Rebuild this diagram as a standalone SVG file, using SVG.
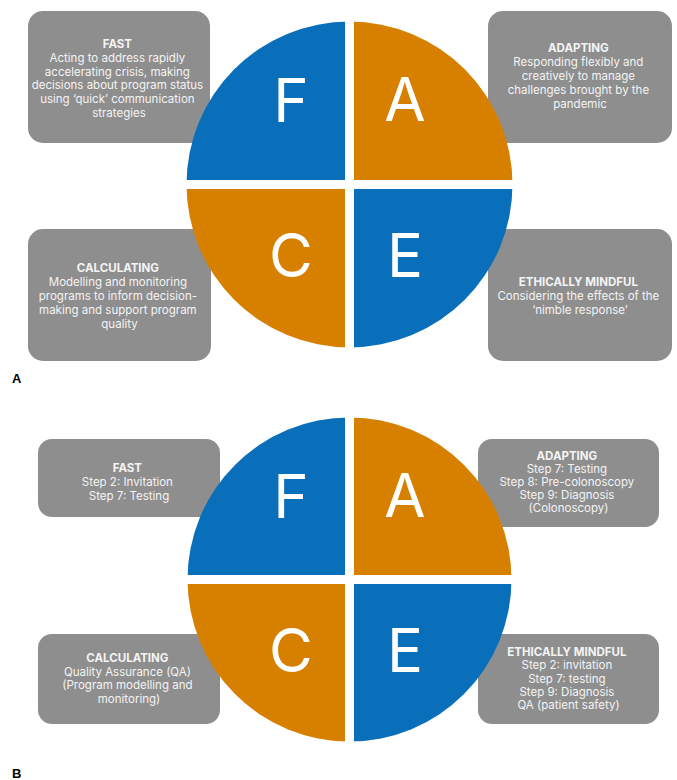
<svg xmlns="http://www.w3.org/2000/svg" width="677" height="780" viewBox="0 0 677 780">
  <style>
    .box { fill: #8e8e8e; }
    .t { font-family: Inter, "Noto Sans", "Liberation Sans", sans-serif; font-size: 11.5px; fill: #f4f4f4; text-anchor: middle; }
    .h { font-weight: bold; }
    .big { font-family: Inter, "Liberation Sans", sans-serif; font-size: 60px; fill: #ffffff; text-anchor: middle; }
    .blue { fill: #0a6fba; }
    .orange { fill: #d78000; }
    .panel { font-family: "Liberation Sans", Arial, sans-serif; font-size: 13px; font-weight: bold; fill: #000; }
  </style>
  <defs>
    <clipPath id="discA"><circle cx="349.5" cy="184.5" r="163"/></clipPath>
    <clipPath id="discB"><circle cx="349.5" cy="579.5" r="162"/></clipPath>
  </defs>
  <rect width="677" height="780" fill="#ffffff"/>

  <!-- Panel A: description boxes -->
  <g id="a-fast">
    <rect class="box" x="28" y="11" width="182" height="132" rx="15"/>
    <text class="t" x="119" y="48"><tspan class="h">FAST</tspan>
      <tspan x="119" dy="13.8">Acting to address rapidly</tspan>
      <tspan x="119" dy="13.8">accelerating crisis, making</tspan>
      <tspan x="119" dy="13.8">decisions about program status</tspan>
      <tspan x="119" dy="13.8">using ‘quick’ communication</tspan>
      <tspan x="119" dy="13.8">strategies</tspan></text>
  </g>
  <g id="a-adapting">
    <rect class="box" x="488" y="11" width="184" height="132" rx="15"/>
    <text class="t" x="580" y="52"><tspan class="h">ADAPTING</tspan>
      <tspan x="580" dy="14">Responding flexibly and</tspan>
      <tspan x="580" dy="14">creatively  to manage</tspan>
      <tspan x="580" dy="14">challenges brought by the</tspan>
      <tspan x="580" dy="14">pandemic</tspan></text>
  </g>
  <g id="a-calculating">
    <rect class="box" x="28" y="229" width="183" height="132" rx="15"/>
    <text class="t" x="119.5" y="272"><tspan class="h">CALCULATING</tspan>
      <tspan x="119.5" dy="14">Modelling and monitoring</tspan>
      <tspan x="119.5" dy="14">programs to inform decision-</tspan>
      <tspan x="119.5" dy="14">making and support program</tspan>
      <tspan x="119.5" dy="14">quality</tspan></text>
  </g>
  <g id="a-ethical">
    <rect class="box" x="488" y="229" width="184" height="132" rx="15"/>
    <text class="t" x="580" y="286"><tspan class="h">ETHICALLY MINDFUL</tspan>
      <tspan x="580" dy="14">Considering the effects of the</tspan>
      <tspan x="580" dy="14">‘nimble response’</tspan></text>
  </g>

  <!-- Panel A: FACE disc -->
  <g id="a-face">
    <g clip-path="url(#discA)">
      <rect class="blue" x="180" y="15" width="165" height="165"/>
      <rect class="orange" x="354" y="15" width="165" height="165"/>
      <rect class="orange" x="180" y="189" width="165" height="165"/>
      <rect class="blue" x="354" y="189" width="165" height="165"/>
    </g>
    <text class="big" x="291" y="122">F</text>
    <text class="big" x="405" y="121">A</text>
    <text class="big" x="291" y="277">C</text>
    <text class="big" x="405" y="277">E</text>
  </g>

  <text class="panel" x="12" y="383">A</text>

  <!-- Panel B: description boxes -->
  <g id="b-fast">
    <rect class="box" x="38" y="439" width="182" height="78" rx="14"/>
    <text class="t" x="129" y="472"><tspan class="h">FAST</tspan>
      <tspan x="129" dy="14">Step 2: Invitation</tspan>
      <tspan x="129" dy="14">Step 7: Testing</tspan></text>
  </g>
  <g id="b-adapting">
    <rect class="box" x="478" y="439" width="181" height="88" rx="14"/>
    <text class="t" x="568.5" y="460"><tspan class="h">ADAPTING</tspan>
      <tspan x="568.5" dy="13">Step 7: Testing</tspan>
      <tspan x="568.5" dy="13">Step 8:  Pre-colonoscopy</tspan>
      <tspan x="568.5" dy="13">Step 9: Diagnosis</tspan>
      <tspan x="568.5" dy="13">(Colonoscopy)</tspan></text>
  </g>
  <g id="b-calculating">
    <rect class="box" x="38" y="634" width="182" height="90" rx="14"/>
    <text class="t" x="129" y="662"><tspan class="h">CALCULATING</tspan>
      <tspan x="129" dy="13.5">Quality Assurance (QA)</tspan>
      <tspan x="129" dy="13.5">(Program modelling and</tspan>
      <tspan x="129" dy="13.5">monitoring)</tspan></text>
  </g>
  <g id="b-ethical">
    <rect class="box" x="478" y="634" width="181" height="90" rx="14"/>
    <text class="t" x="568.5" y="656"><tspan class="h">ETHICALLY MINDFUL</tspan>
      <tspan x="568.5" dy="13.3">Step 2: invitation</tspan>
      <tspan x="568.5" dy="13.3">Step 7: testing</tspan>
      <tspan x="568.5" dy="13.3">Step 9: Diagnosis</tspan>
      <tspan x="568.5" dy="13.3">QA (patient safety)</tspan></text>
  </g>

  <!-- Panel B: FACE disc -->
  <g id="b-face">
    <g clip-path="url(#discB)">
      <rect class="blue" x="180" y="410" width="165" height="165"/>
      <rect class="orange" x="354" y="410" width="165" height="165"/>
      <rect class="orange" x="180" y="584" width="165" height="165"/>
      <rect class="blue" x="354" y="584" width="165" height="165"/>
    </g>
    <text class="big" x="291" y="518">F</text>
    <text class="big" x="405" y="517">A</text>
    <text class="big" x="291" y="672">C</text>
    <text class="big" x="405" y="672">E</text>
  </g>

  <text class="panel" x="12" y="778">B</text>
</svg>
